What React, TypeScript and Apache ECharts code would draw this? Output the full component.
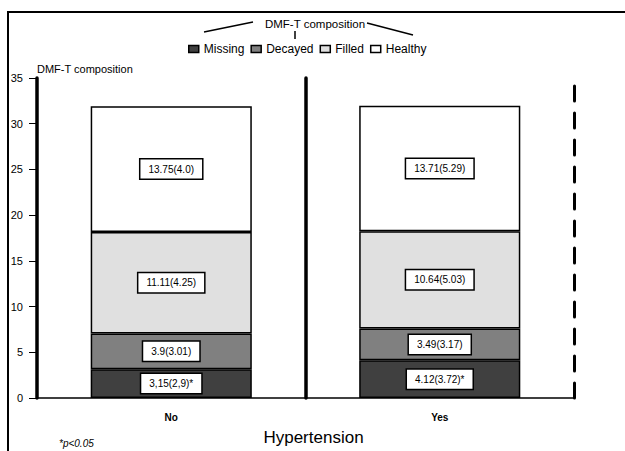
import React, { useEffect, useRef } from "react";
import * as echarts from "echarts";

const categories = ["No", "Yes"];
const seriesNames = ["Missing", "Decayed", "Filled", "Healthy"];
const missing = [3.15, 4.12];
const decayed = [3.9, 3.49];
const filled = [11.11, 10.64];
const healthy = [13.75, 13.71];
const missingLabels = ["3,15(2,9)*", "4.12(3.72)*"];
const decayedLabels = ["3.9(3.01)", "3.49(3.17)"];
const filledLabels = ["11.11(4.25)", "10.64(5.03)"];
const healthyLabels = ["13.75(4.0)", "13.71(5.29)"];
const colors = ["#404040", "#808080", "#e0e0e0", "#ffffff"];
const yTicks = { min: 0, max: 35, interval: 5 };

const FONT = "'Liberation Sans', Arial, sans-serif";

export default function App() {
  const ref = useRef<HTMLDivElement>(null);
  useEffect(() => {
    if (!ref.current) return;
    const chart = echarts.init(ref.current, null, { renderer: "svg" });
    const values = [missing, decayed, filled, healthy];
    const labels = [missingLabels, decayedLabels, filledLabels, healthyLabels];
    const series = seriesNames.map((name, i) => ({
      name,
      type: "bar",
      stack: "total",
      barWidth: "60%",
      data: values[i],
      itemStyle: { color: colors[i], borderColor: "#000", borderWidth: 1.5 },
      label: {
        show: true,
        position: "inside",
        formatter: (p: any) => labels[i][p.dataIndex],
        color: "#000",
        fontSize: 10,
        fontFamily: FONT,
        backgroundColor: "#fff",
        borderColor: "#000",
        borderWidth: 1.5,
        padding: [5, 8, 4, 8],
      },
    }));
    chart.setOption({
      animation: false,
      textStyle: { fontFamily: FONT, color: "#000" },
      grid: { left: 37, right: 51, top: 78, bottom: 53, containLabel: false, outerBoundsMode: "none" },
      legend: {
        data: seriesNames,
        left: 183,
        top: 38,
        icon: "rect",
        itemWidth: 10,
        itemHeight: 7,
        itemGap: 6,
        textStyle: { fontSize: 12, color: "#000", fontFamily: FONT },
        itemStyle: { borderColor: "#000", borderWidth: 1.5 },
      },
      xAxis: {
        type: "category",
        data: categories,
        axisLine: { onZero: false, lineStyle: { color: "#000", width: 1.5 } },
        axisTick: { alignWithLabel: true, length: 8, lineStyle: { color: "#000", width: 1.5 } },
        axisLabel: { fontSize: 10, fontWeight: "bold", color: "#000", margin: 14 },
        splitLine: { show: false },
        name: "Hypertension",
        nameLocation: "middle",
        nameGap: 31,
        nameTextStyle: { fontSize: 17, color: "#000", padding: [0, 0, 0, 16] },
      },
      yAxis: [
        {
          type: "value",
          min: yTicks.min,
          max: yTicks.max,
          interval: yTicks.interval,
          name: "DMF-T composition",
          nameLocation: "end",
          nameGap: 4,
          nameTextStyle: { fontSize: 11, color: "#000", align: "left", verticalAlign: "bottom" },
          axisLine: { show: true, onZero: false, lineStyle: { color: "#000", width: 3.5 } },
          axisTick: { show: true, length: 8, lineStyle: { color: "#000", width: 1 } },
          axisLabel: { fontSize: 11, color: "#000", margin: 14 },
          splitLine: { show: false },
        },
        {
          type: "value",
          position: "right",
          min: yTicks.min,
          max: yTicks.max,
          axisLine: { show: true, onZero: false, lineStyle: { color: "#000", width: 3, type: [15, 12] } },
          axisTick: { show: false },
          axisLabel: { show: false },
          splitLine: { show: false },
        },
        {
          type: "value",
          position: "right",
          offset: -268.5,
          min: yTicks.min,
          max: yTicks.max,
          axisLine: { show: true, onZero: false, lineStyle: { color: "#000", width: 3.5 } },
          axisTick: { show: false },
          axisLabel: { show: false },
          splitLine: { show: false },
        },
      ],
      series,
      graphic: [
        {
          type: "rect",
          shape: { x: 8, y: 12, width: 700, height: 500 },
          style: { fill: "none", stroke: "#000", lineWidth: 2 },
          silent: true,
        },
        {
          type: "text",
          x: 315,
          y: 24,
          style: { text: "DMF-T composition", fontSize: 11.5, fontFamily: FONT, fill: "#000", align: "center", verticalAlign: "middle" },
        },
        { type: "line", shape: { x1: 204, y1: 32, x2: 253, y2: 22 }, style: { stroke: "#000", lineWidth: 1.5 } },
        { type: "line", shape: { x1: 367, y1: 23, x2: 413, y2: 35 }, style: { stroke: "#000", lineWidth: 1.5 } },
        { type: "line", shape: { x1: 295, y1: 31, x2: 295, y2: 39 }, style: { stroke: "#000", lineWidth: 1.5 } },
        {
          type: "text",
          x: 59,
          y: 443,
          style: { text: "*p<0.05", fontSize: 10, fontStyle: "italic", fontFamily: FONT, fill: "#000", align: "left", verticalAlign: "middle" },
        },
      ],
    });
    return () => chart.dispose();
  }, []);
  return (
    <div
      ref={ref}
      style={{ position: "absolute", left: 0, top: 0, width: 625, height: 451, background: "#fff" }}
    />
  );
}
